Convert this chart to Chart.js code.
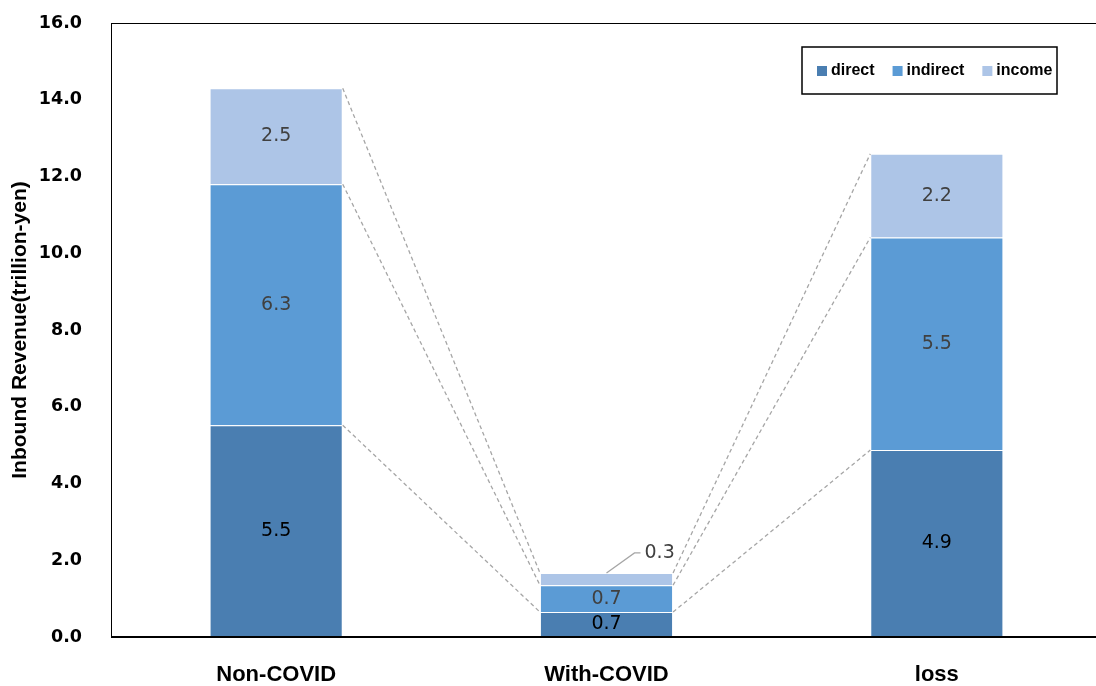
<!DOCTYPE html>
<html>
<head>
<meta charset="utf-8">
<script src="https://cdn.jsdelivr.net/npm/chart.js@4.4.1/dist/chart.umd.min.js"></script>
<style>
  html, body { margin: 0; padding: 0; overflow: hidden; background: #fff; }
  canvas { display: block; }
</style>
</head>
<body>
<canvas id="chart" width="1104" height="686"></canvas>
<script>
const categories = ["Non-COVID", "With-COVID", "loss"];
const direct = [5.52, 0.65, 4.87];
const indirect = [6.28, 0.70, 5.54];
const income = [2.50, 0.32, 2.18];
const yTicks = [0, 2, 4, 6, 8, 10, 12, 14, 16];

const colors = ["#4A7EB1", "#5B9BD5", "#ADC5E7"];
const labelColors = ["#000000", "#404040", "#404040"];

// series lines, value labels, legend and the frame
const decorations = {
  id: "decorations",
  afterDatasetsDraw(chart) {
    const ctx = chart.ctx;
    const area = chart.chartArea;
    const metas = chart.data.datasets.map((d, i) => chart.getDatasetMeta(i));

    // dashed series lines between neighbouring bars
    ctx.save();
    ctx.strokeStyle = "#A6A6A6";
    ctx.lineWidth = 1.3;
    ctx.setLineDash([4, 3]);
    metas.forEach(meta => {
      for (let i = 0; i < meta.data.length - 1; i++) {
        const a = meta.data[i], b = meta.data[i + 1];
        ctx.beginPath();
        ctx.moveTo(a.x + a.width / 2, a.y);
        ctx.lineTo(b.x - b.width / 2, b.y);
        ctx.stroke();
      }
    });
    ctx.restore();

    // value labels
    ctx.save();
    ctx.font = "19px 'DejaVu Sans'";
    ctx.textBaseline = "middle";
    metas.forEach((meta, di) => {
      const values = chart.data.datasets[di].data;
      meta.data.forEach((bar, i) => {
        const txt = values[i].toFixed(1);
        const h = bar.base - bar.y;
        ctx.fillStyle = labelColors[di];
        if (h < 20) {
          // too small, put it outside with a leader line
          const ly = bar.y - 20;
          ctx.strokeStyle = "#A6A6A6";
          ctx.lineWidth = 1.3;
          ctx.beginPath();
          ctx.moveTo(bar.x, bar.y);
          ctx.lineTo(bar.x + 28, ly);
          ctx.lineTo(bar.x + 34, ly);
          ctx.stroke();
          ctx.textAlign = "left";
          ctx.fillText(txt, bar.x + 38, ly);
        } else {
          ctx.textAlign = "center";
          ctx.fillText(txt, bar.x, (bar.y + bar.base) / 2);
        }
      });
    });
    ctx.restore();

    // frame
    ctx.save();
    ctx.strokeStyle = "#000";
    ctx.lineWidth = 1;
    ctx.strokeRect(area.left + 0.5, area.top + 0.5, area.right - area.left, area.bottom - area.top);
    ctx.lineWidth = 2;
    ctx.beginPath();
    ctx.moveTo(area.left, area.bottom);
    ctx.lineTo(area.right, area.bottom);
    ctx.stroke();
    ctx.restore();

    // legend box
    ctx.save();
    ctx.strokeStyle = "#000";
    ctx.lineWidth = 1.5;
    ctx.strokeRect(802, 47, 255, 47);
    ctx.font = "bold 16px 'Liberation Sans'";
    ctx.textBaseline = "middle";
    ctx.textAlign = "left";
    let x = 817;
    chart.data.datasets.forEach((ds, i) => {
      ctx.fillStyle = ds.backgroundColor;
      ctx.fillRect(x, 66, 10, 10);
      ctx.fillStyle = "#000";
      ctx.fillText(ds.label, x + 14, 71);
      x += 14 + ctx.measureText(ds.label).width + 18;
    });
    ctx.restore();
  }
};

new Chart(document.getElementById("chart"), {
  type: "bar",
  data: {
    labels: categories,
    datasets: [
      { label: "direct", data: direct, backgroundColor: colors[0] },
      { label: "indirect", data: indirect, backgroundColor: colors[1] },
      { label: "income", data: income, backgroundColor: colors[2] }
    ].map(d => Object.assign(d, {
      borderColor: "rgba(255,255,255,0.6)",
      borderWidth: 1,
      categoryPercentage: 1,
      barPercentage: 0.403
    }))
  },
  options: {
    responsive: false,
    animation: false,
    layout: { padding: { top: 23, right: 2, left: 0, bottom: 0 } },
    plugins: {
      legend: { display: false },
      tooltip: { enabled: false }
    },
    scales: {
      x: {
        stacked: true,
        grid: { display: false },
        border: { display: false },
        ticks: {
          color: "#000",
          padding: 17,
          font: { family: "'Liberation Sans'", size: 22, weight: "bold" }
        },
        afterFit(scale) { scale.height = 49; }
      },
      y: {
        stacked: true,
        min: 0,
        max: 16,
        afterBuildTicks(scale) { scale.ticks = yTicks.map(v => ({ value: v })); },
        grid: { display: false },
        border: { display: false },
        ticks: {
          color: "#000",
          padding: 21,
          font: { family: "'DejaVu Sans'", size: 17.5, weight: "bold" },
          callback: v => v.toFixed(1)
        },
        title: {
          display: true,
          text: "Inbound Revenue(trillion-yen)",
          color: "#000",
          padding: { top: 8, bottom: 4 },
          font: { family: "'Liberation Sans'", size: 21, weight: "bold" }
        },
        afterFit(scale) {
          scale.width = 111;
          scale.paddingTop = 0;
          scale.paddingBottom = 0;
        }
      }
    }
  },
  plugins: [decorations]
});
</script>
</body>
</html>
